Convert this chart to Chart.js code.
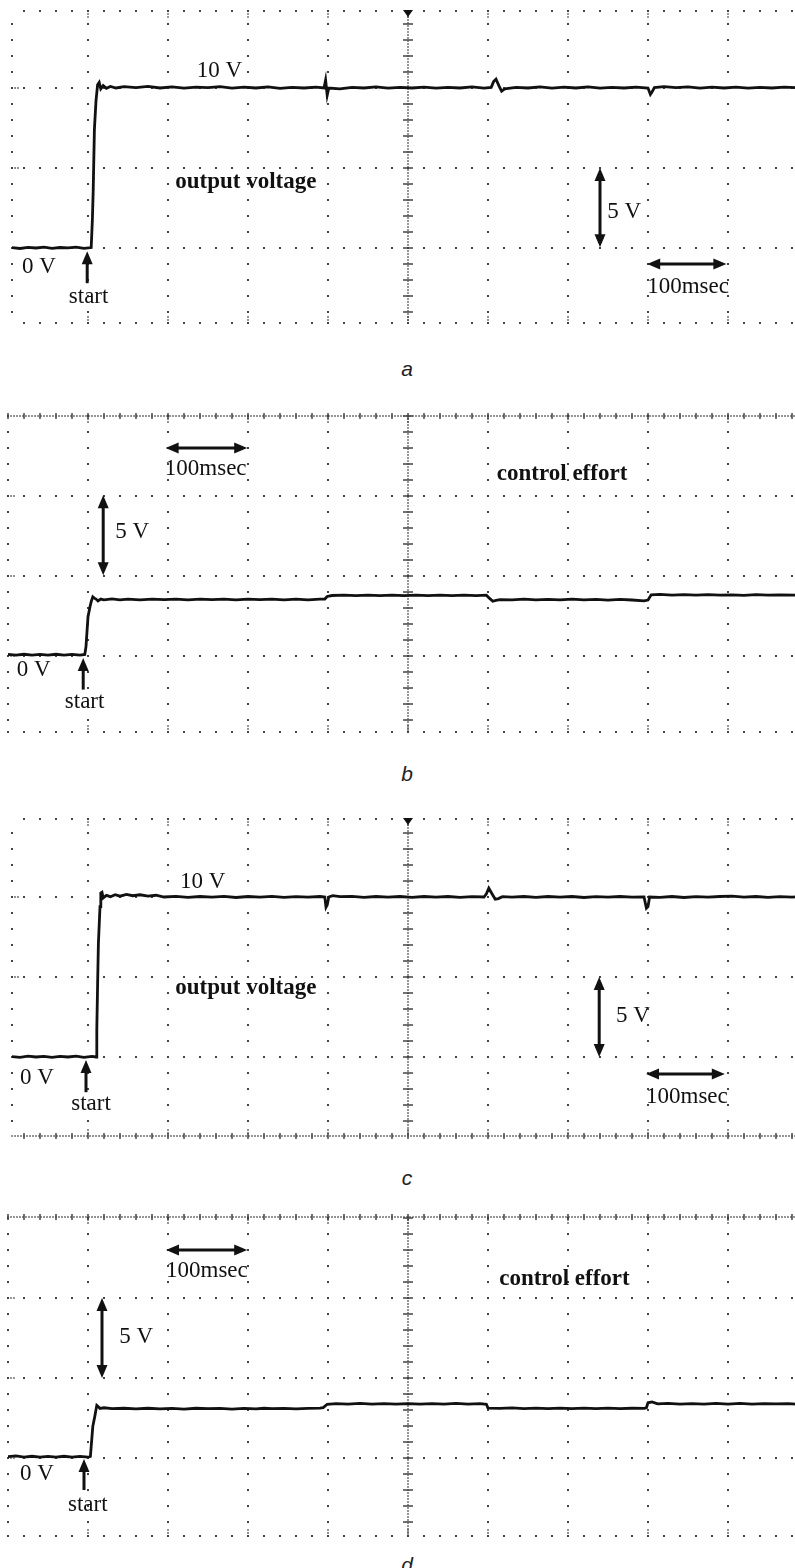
<!DOCTYPE html>
<html>
<head>
<meta charset="utf-8">
<script src="https://cdn.jsdelivr.net/npm/chart.js@4.4.0/dist/chart.umd.min.js"></script>
<style>
  html, body { margin: 0; padding: 0; background: #fff; }
  body { width: 795px; height: 1568px; overflow: hidden; position: relative; }
  .panel { position: absolute; }
  .label {
    position: absolute; width: 40px; text-align: center; line-height: 20px;
    font: italic 21px "Liberation Sans", Arial, sans-serif; color: #222;
  }
</style>
</head>
<body>
<div class="panel" style="left:6px; top:5px; width:796px; height:324px;"><canvas id="chartA"></canvas></div>
<div class="panel" style="left:2px; top:410px; width:800px; height:328px;"><canvas id="chartB"></canvas></div>
<div class="panel" style="left:6px; top:813px; width:796px; height:329px;"><canvas id="chartC"></canvas></div>
<div class="panel" style="left:2px; top:1211px; width:800px; height:331px;"><canvas id="chartD"></canvas></div>

<div class="label" style="left:387px; top:357px;">a</div>
<div class="label" style="left:387px; top:762px;">b</div>
<div class="label" style="left:387px; top:1166px;">c</div>
<div class="label" style="left:387px; top:1553px;">d</div>

<script>
// time in msec, values in volts
const timeA = [5, 15, 25, 35, 45, 55, 65, 75, 85, 95, 104, 105.5, 106.5, 108, 110, 112, 114, 116, 119, 123, 128, 135, 145, 160, 175, 190, 205, 220, 235, 250, 265, 280, 295, 310, 325, 340, 355, 370, 385, 395, 397, 399, 401, 415, 430, 445, 460, 475, 490, 505, 520, 535, 550, 565, 580, 595, 604, 607, 610, 614, 617, 621, 635, 650, 665, 680, 695, 710, 725, 740, 755, 770, 785, 800, 803, 805, 808, 820, 835, 850, 865, 880, 895, 910, 925, 940, 955, 970, 985];
const voltA = [0.02, -0.03, 0.04, 0.0, 0.05, -0.02, 0.03, 0.01, 0.05, -0.02, 0.03, 1.8, 3.6, 7.4, 9.2, 10.2, 10.35, 9.95, 10.15, 9.98, 10.1, 10.0, 10.08, 10.02, 10.1, 10.0, 10.07, 9.99, 10.05, 10.02, 10.08, 9.99, 10.05, 10.0, 10.07, 9.98, 10.04, 10.0, 10.06, 10.0, 10.5, 9.55, 10.0, 9.95, 10.04, 10.0, 10.07, 9.99, 10.04, 10.0, 10.06, 9.99, 10.04, 10.0, 10.07, 9.99, 10.04, 10.4, 10.55, 10.1, 9.8, 9.95, 10.04, 10.0, 10.07, 9.99, 10.05, 10.0, 10.07, 9.99, 10.04, 10.0, 10.05, 10.0, 9.6, 9.75, 10.02, 10.08, 10.02, 10.07, 9.99, 10.05, 10.0, 10.06, 9.99, 10.04, 10.0, 10.06, 10.02];

const timeB = [0, 10, 20, 30, 40, 50, 60, 70, 80, 90, 96, 97.5, 100, 102.5, 104, 106, 108, 110, 112.5, 116, 120, 130, 140, 150, 165, 180, 195, 210, 225, 240, 255, 270, 285, 300, 315, 330, 345, 360, 375, 390, 396, 399, 405, 420, 435, 450, 465, 480, 495, 510, 525, 540, 555, 570, 585, 598, 602, 606, 610, 615, 630, 645, 660, 675, 690, 705, 720, 735, 750, 765, 780, 795, 800, 804, 815, 830, 845, 860, 875, 890, 905, 920, 935, 950, 965, 985];
const effortB = [0.1, 0.06, 0.11, 0.06, 0.1, 0.05, 0.11, 0.06, 0.1, 0.06, 0.1, 0.58, 2.46, 3.08, 3.4, 3.7, 3.62, 3.56, 3.44, 3.56, 3.51, 3.57, 3.51, 3.56, 3.51, 3.56, 3.52, 3.56, 3.51, 3.56, 3.52, 3.56, 3.51, 3.56, 3.52, 3.56, 3.51, 3.55, 3.51, 3.55, 3.56, 3.72, 3.78, 3.8, 3.77, 3.81, 3.77, 3.8, 3.77, 3.81, 3.77, 3.8, 3.77, 3.8, 3.77, 3.8, 3.6, 3.42, 3.47, 3.52, 3.51, 3.55, 3.51, 3.54, 3.51, 3.55, 3.51, 3.54, 3.49, 3.54, 3.5, 3.44, 3.5, 3.82, 3.85, 3.8, 3.83, 3.8, 3.83, 3.8, 3.82, 3.79, 3.83, 3.8, 3.82, 3.8];

const timeC = [5, 15, 25, 35, 45, 55, 65, 75, 85, 95, 105, 110, 111, 112, 113, 115, 116, 117.5, 119, 123, 128, 134, 140, 148, 156, 165, 175, 185, 195, 210, 225, 240, 255, 270, 285, 300, 315, 330, 345, 360, 375, 390, 396, 397.5, 399, 401, 406, 415, 430, 445, 460, 475, 490, 505, 520, 535, 550, 565, 580, 595, 598, 601, 605, 609, 613, 618, 630, 645, 660, 675, 690, 705, 720, 735, 750, 765, 780, 795, 798, 800, 802, 815, 830, 845, 860, 875, 890, 905, 920, 935, 950, 965, 980, 985];
const voltC = [0.03, -0.02, 0.05, 0.0, 0.04, -0.02, 0.04, 0.0, 0.05, -0.02, 0.04, 0.0, 1.7, 4.5, 7.1, 9.4, 10.25, 10.3, 9.94, 10.1, 10.02, 10.14, 10.05, 10.16, 10.08, 10.14, 10.05, 10.11, 10.0, 10.04, 9.98, 10.03, 9.99, 10.04, 9.97, 10.03, 9.99, 10.04, 9.98, 10.02, 9.99, 10.03, 10.0, 9.36, 9.5, 10.0, 10.08, 10.02, 10.04, 9.98, 10.03, 9.99, 10.03, 9.98, 10.03, 9.99, 10.03, 9.98, 10.02, 10.0, 10.2, 10.55, 10.2, 9.86, 9.9, 10.02, 9.99, 10.03, 9.98, 10.03, 9.99, 10.03, 9.97, 10.02, 9.99, 10.03, 9.99, 10.0, 9.3, 9.4, 10.0, 9.98, 10.03, 9.97, 10.02, 9.99, 10.03, 10.05, 9.99, 10.03, 9.98, 10.02, 9.99, 10.01];

const timeD = [0, 10, 20, 30, 40, 50, 60, 70, 80, 90, 100, 103, 104, 106, 108.5, 111, 113, 115, 120, 130, 145, 160, 175, 190, 205, 220, 235, 250, 265, 280, 295, 310, 320, 330, 345, 360, 375, 390, 394, 399, 410, 425, 440, 455, 470, 485, 500, 515, 530, 545, 560, 575, 590, 598, 600, 615, 630, 645, 660, 675, 690, 705, 720, 735, 750, 765, 780, 795, 798, 800, 805, 812, 825, 840, 855, 870, 885, 900, 915, 930, 945, 960, 975, 985];
const effortD = [0.08, 0.13, 0.06, 0.11, 0.06, 0.1, 0.06, 0.11, 0.06, 0.1, 0.06, 0.1, 0.73, 1.98, 2.6, 3.29, 3.2, 3.1, 3.14, 3.08, 3.11, 3.07, 3.11, 3.07, 3.1, 3.06, 3.11, 3.08, 3.1, 3.06, 3.1, 3.07, 3.11, 3.08, 3.1, 3.07, 3.1, 3.12, 3.15, 3.36, 3.4, 3.37, 3.41, 3.37, 3.4, 3.37, 3.4, 3.37, 3.4, 3.37, 3.41, 3.37, 3.4, 3.36, 3.12, 3.1, 3.13, 3.09, 3.12, 3.09, 3.12, 3.09, 3.12, 3.09, 3.12, 3.09, 3.11, 3.1, 3.14, 3.45, 3.5, 3.38, 3.41, 3.37, 3.4, 3.37, 3.41, 3.37, 3.41, 3.37, 3.4, 3.38, 3.4, 3.37];

const majorTimes = [100, 200, 300, 400, 500, 600, 700, 800, 900];
const majorVolts = [0, 5, 10];

const REG = '23px "Liberation Serif", "Times New Roman", serif';
const BOLD = 'bold 23px "Liberation Serif", "Times New Roman", serif';

const panelA = {
  tMin: 5, vMin: -4.6875, vMax: 14.8125, trigger: true,
  texts: [
    { s: "10 V", t: 236, v: 10.69, f: REG },
    { s: "output voltage", t: 209, v: 3.75, f: BOLD },
    { s: "0 V", t: 17.5, v: -1.56, f: REG },
    { s: "start", t: 76, v: -3.44, f: REG },
    { s: "5 V", t: 749, v: 1.875, f: REG },
    { s: "100msec", t: 799, v: -2.81, f: REG },
  ],
  arrows: [
    { t1: 99, v1: -2.2, t2: 99, v2: -0.2, both: false },
    { t1: 740, v1: 5.0, t2: 740, v2: 0.05, both: true },
    { t1: 799, v1: -1.0, t2: 898, v2: -1.0, both: true },
  ],
};

const panelB = {
  tMin: 0, vMin: -4.75, vMax: 15, denseTop: true,
  texts: [
    { s: "100msec", t: 196, v: 11.31, f: REG },
    { s: "5 V", t: 134, v: 7.375, f: REG },
    { s: "0 V", t: 11, v: -1.25, f: REG },
    { s: "start", t: 71, v: -3.25, f: REG },
    { s: "control effort", t: 611, v: 11.0, f: BOLD },
  ],
  arrows: [
    { t1: 197, v1: 13.0, t2: 299, v2: 13.0, both: true },
    { t1: 119, v1: 10.05, t2: 119, v2: 5.05, both: true },
    { t1: 94, v1: -2.1, t2: 94, v2: -0.12, both: false },
  ],
};

const panelC = {
  tMin: 5, vMin: -4.9375, vMax: 14.875, trigger: true, denseBottom: true,
  texts: [
    { s: "10 V", t: 215, v: 10.56, f: REG },
    { s: "output voltage", t: 209, v: 3.94, f: BOLD },
    { s: "0 V", t: 15, v: -1.69, f: REG },
    { s: "start", t: 79, v: -3.31, f: REG },
    { s: "5 V", t: 760, v: 2.19, f: REG },
    { s: "100msec", t: 797.5, v: -2.875, f: REG },
  ],
  arrows: [
    { t1: 97.5, v1: -2.2, t2: 97.5, v2: -0.19, both: false },
    { t1: 739, v1: 5.0, t2: 739, v2: 0.0, both: true },
    { t1: 797.5, v1: -1.06, t2: 896, v2: -1.06, both: true },
  ],
};

const panelD = {
  tMin: 0, vMin: -4.875, vMax: 15.0625, denseTop: true,
  texts: [
    { s: "100msec", t: 197.5, v: 11.31, f: REG },
    { s: "5 V", t: 139, v: 7.19, f: REG },
    { s: "0 V", t: 15, v: -1.375, f: REG },
    { s: "start", t: 75, v: -3.3, f: REG },
    { s: "control effort", t: 614, v: 10.81, f: BOLD },
  ],
  arrows: [
    { t1: 197.5, v1: 13.0, t2: 299, v2: 13.0, both: true },
    { t1: 117.5, v1: 10.0, t2: 117.5, v2: 5.0, both: true },
    { t1: 95, v1: -2.0, t2: 95, v2: -0.06, both: false },
  ],
};

const arrowHead = (ctx, x, y, dx, dy) => {
  const len = 13, half = 5.5;
  ctx.beginPath();
  ctx.moveTo(x, y);
  ctx.lineTo(x - dx * len - dy * half, y - dy * len + dx * half);
  ctx.lineTo(x - dx * len + dy * half, y - dy * len - dx * half);
  ctx.closePath();
  ctx.fill();
};

// scope graticule + labels, drawn through the chart's own scales
const makeScopePlugin = (p) => ({
  id: "scope",
  beforeDatasetsDraw(chart) {
    const { ctx, chartArea: area } = chart;
    const xs = chart.scales.x, ys = chart.scales.y;
    const px = (t) => xs.getPixelForValue(t);
    const py = (v) => ys.getPixelForValue(v);
    const dot = (x, y) => ctx.fillRect(Math.round(x) - 1, Math.round(y) - 1, 2, 2);
    const tiny = (x, y) => ctx.fillRect(Math.round(x) - 0.75, Math.round(y) - 0.75, 1.5, 1.5);
    ctx.save();
    ctx.fillStyle = "#444";

    const minorT = [];
    for (let t = Math.ceil(p.tMin / 20) * 20; t <= 985; t += 20) minorT.push(t);
    const minorV = [];
    for (let v = Math.ceil(p.vMin); v <= p.vMax; v++) minorV.push(v);

    // dotted rows
    const rows = majorVolts.slice();
    if (!p.denseTop) rows.push(p.vMax);
    if (!p.denseBottom) rows.push(p.vMin);
    rows.forEach((v) => minorT.forEach((t) => dot(px(t), py(v))));
    majorVolts.forEach((v) => {
      tiny(area.left + 3, py(v));
      tiny(area.left + 6, py(v));
    });

    // dotted columns
    [p.tMin].concat(majorTimes.filter((t) => t !== 500)).forEach((t) => {
      minorV.forEach((v) => dot(px(t), py(v)));
    });
    majorTimes.forEach((t) => {
      [3, 6].forEach((d) => {
        tiny(px(t), area.top + d);
        tiny(px(t), area.bottom - d);
      });
    });

    // centre vertical axis
    const cx = px(500);
    for (let y = area.top; y <= area.bottom; y += 3) tiny(cx, y);
    minorV.forEach((v) => ctx.fillRect(cx - 5, Math.round(py(v)) - 0.75, 10, 1.5));

    // centre horizontal axis
    const denseRow = (y) => {
      for (let x = area.left; x <= area.right; x += 3) tiny(x, y);
      minorT.forEach((t) => ctx.fillRect(Math.round(px(t)) - 0.75, y - 3, 1.5, 6));
    };
    if (p.denseTop) denseRow(area.top);
    if (p.denseBottom) denseRow(area.bottom);

    if (p.trigger) {
      ctx.fillStyle = "#111";
      ctx.beginPath();
      ctx.moveTo(cx - 5, area.top - 1);
      ctx.lineTo(cx + 5, area.top - 1);
      ctx.lineTo(cx, area.top + 6);
      ctx.closePath();
      ctx.fill();
    }
    ctx.restore();
  },
  afterDatasetsDraw(chart) {
    const { ctx } = chart;
    const xs = chart.scales.x, ys = chart.scales.y;
    const px = (t) => xs.getPixelForValue(t);
    const py = (v) => ys.getPixelForValue(v);
    ctx.save();
    ctx.fillStyle = "#111";
    ctx.strokeStyle = "#111";
    ctx.textBaseline = "alphabetic";
    ctx.textAlign = "left";
    p.texts.forEach((tx) => {
      ctx.font = tx.f;
      ctx.fillText(tx.s, px(tx.t), py(tx.v));
    });
    ctx.lineWidth = 3;
    p.arrows.forEach((a) => {
      const x1 = px(a.t1), y1 = py(a.v1), x2 = px(a.t2), y2 = py(a.v2);
      const L = Math.hypot(x2 - x1, y2 - y1);
      const dx = (x2 - x1) / L, dy = (y2 - y1) / L;
      const s = a.both ? 9 : 0;
      ctx.beginPath();
      ctx.moveTo(x1 + dx * s, y1 + dy * s);
      ctx.lineTo(x2 - dx * 9, y2 - dy * 9);
      ctx.stroke();
      arrowHead(ctx, x2, y2, dx, dy);
      if (a.both) arrowHead(ctx, x1, y1, -dx, -dy);
    });
    ctx.restore();
  },
});

const makeChart = (id, times, values, panel) => {
  let canvasElement = document.getElementById(id);
  let config = {
    type: "line",
    data: {
      datasets: [
        {
          data: times.map((t, i) => ({ x: t, y: values[i] })),
          borderColor: "#111",
          borderWidth: 2.8,
          pointRadius: 0,
          tension: 0,
        },
      ],
    },
    options: {
      responsive: true,
      maintainAspectRatio: false,
      animation: false,
      events: [],
      layout: { padding: 6 },
      plugins: { legend: { display: false }, tooltip: { enabled: false } },
      scales: {
        x: { type: "linear", display: false, bounds: "data", min: panel.tMin, max: 985 },
        y: { type: "linear", display: false, bounds: "data", min: panel.vMin, max: panel.vMax },
      },
    },
    plugins: [makeScopePlugin(panel)],
  };
  return new Chart(canvasElement, config);
};

makeChart("chartA", timeA, voltA, panelA);
makeChart("chartB", timeB, effortB, panelB);
makeChart("chartC", timeC, voltC, panelC);
makeChart("chartD", timeD, effortD, panelD);
</script>
</body>
</html>
